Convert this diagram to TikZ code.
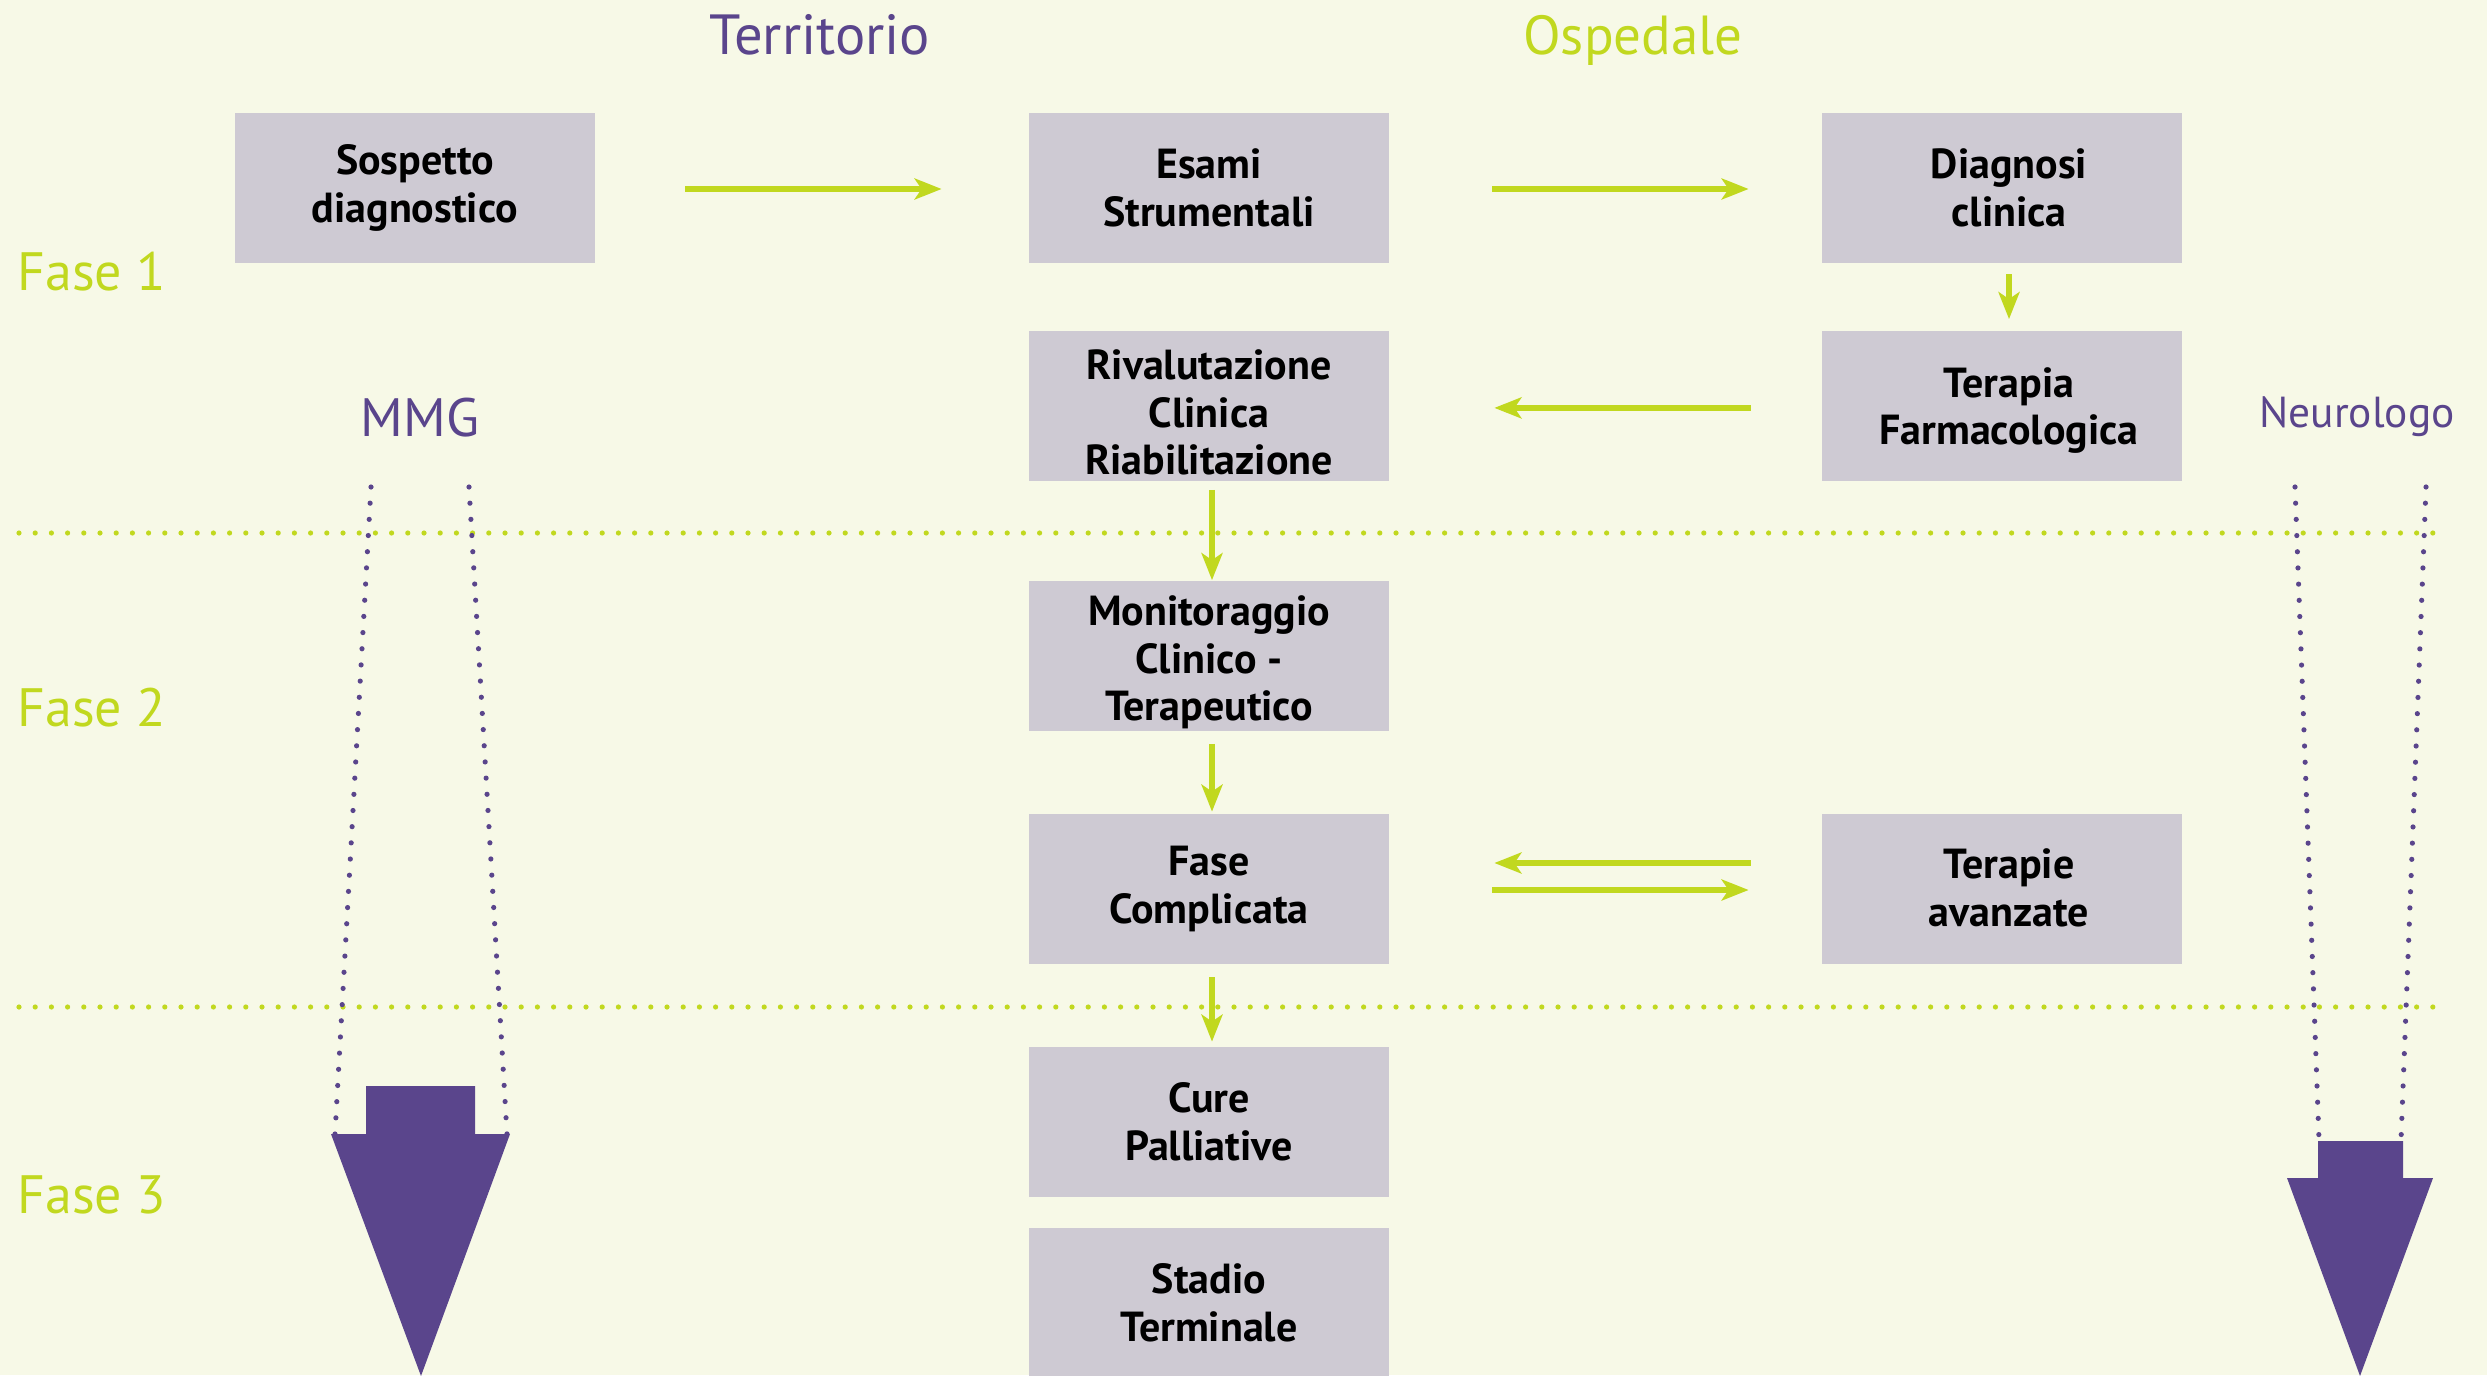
\documentclass[tikz,border=0pt]{standalone}
\usepackage{fontspec}
\setmainfont{PT Sans}
\usetikzlibrary{arrows.meta}
\definecolor{bgc}{HTML}{F7F9E7}
\definecolor{boxc}{HTML}{CECAD3}
\definecolor{purp}{HTML}{5A458C}
\definecolor{lime}{HTML}{C1D81F}
\begin{document}
\begin{tikzpicture}[x=0.5pt,y=-0.5pt,
  boxtext/.style={align=center, inner sep=0pt, font=\bfseries\fontsize{21}{23.8}\selectfont, text=black},
  box/.style={boxtext, fill=boxc, minimum width=180pt, minimum height=75pt},
  boxat/.style n args={3}{fill=boxc, minimum width=180pt, minimum height=75pt, inner sep=0pt,
    label={[boxtext, xshift=#2, yshift=#3]center:#1}},
  arr/.style={draw=lime, line width=2.6pt, -{Stealth[length=13.5pt,width=10.5pt,inset=3.5pt]}},
  limedots/.style={draw=lime, line width=2.6pt, dash pattern=on 0pt off 8.1pt, line cap=round},
  purpdots/.style={draw=purp, line width=2.6pt, dash pattern=on 0pt off 8.1pt, line cap=round},
  head/.style={font=\fontsize{27}{30}\selectfont, inner sep=0pt, anchor=base},
  bigarrow/.style={fill=purp}
]
\fill[bgc] (0,0) rectangle (2487,1375);
\useasboundingbox (0,0) rectangle (2487,1375);

% headers
\node[head, text=purp, font=\fontsize{28.3}{30}\selectfont] (terr) at (820,55) {Territorio};
\node[head, text=lime, font=\fontsize{27.5}{30}\selectfont] (osp) at (1633,55) {Ospedale};
\node[head, text=lime, anchor=base west] (f1) at (17,290) {Fase 1};
\node[head, text=lime, anchor=base west] (f2) at (17,726) {Fase 2};
\node[head, text=lime, anchor=base west] (f3) at (17,1213) {Fase 3};
\node[head, text=purp] (mmg) at (420,436) {MMG};
\node[head, text=purp, font=\fontsize{21.7}{24}\selectfont] (neuro) at (2357,427) {Neurologo};

% dotted separators
\coordinate (s1a) at (19,533);
\coordinate (s1b) at (2437,533);
\coordinate (s2a) at (19,1007);
\coordinate (s2b) at (2437,1007);
\draw[limedots] (s1a) -- (s1b);
\draw[limedots] (s2a) -- (s2b);

% purple dotted lines
\coordinate (m1a) at (371,487);
\coordinate (m1b) at (335,1134);
\coordinate (m2a) at (469,487);
\coordinate (m2b) at (507,1134);
\coordinate (n1a) at (2295,487);
\coordinate (n1b) at (2319,1140);
\coordinate (n2a) at (2426,487);
\coordinate (n2b) at (2401,1140);
\draw[purpdots] (m1a) -- (m1b);
\draw[purpdots] (m2a) -- (m2b);
\draw[purpdots] (n1a) -- (n1b);
\draw[purpdots] (n2a) -- (n2b);

% big arrows
\fill[bigarrow] (366,1086) -- (475,1086) -- (475,1134) -- (510,1134) -- (421,1376)
  -- (331,1134) -- (366,1134) -- cycle;
\fill[bigarrow] (2318,1141) -- (2403,1141) -- (2403,1178) -- (2433,1178) -- (2360,1376)
  -- (2287,1178) -- (2318,1178) -- cycle;

% boxes
\node[box] (sosp) at (415,188) {Sospetto\\diagnostico};
\node[box] (esami) at (1209,188) {Esami\\Strumentali};
\node[boxat={Diagnosi\\clinica}{3.5pt}{0pt}] (diag) at (2002,188) {};
\node[boxat={Rivalutazione\\Clinica\\Riabilitazione}{0pt}{-3.5pt}] (riv) at (1209,405.5) {};
\node[boxat={Terapia\\Farmacologica}{3.5pt}{-2.5pt}] (terf) at (2002,405.5) {};
\node[boxat={Monitoraggio\\Clinico -\\Terapeutico}{0pt}{-3.5pt}] (mon) at (1209,655.5) {};
\node[box] (fase) at (1209,889) {Fase\\Complicata};
\node[boxat={Terapie\\avanzate}{3.5pt}{0.5pt}] (tav) at (2002,889) {};
\node[box] (cure) at (1209,1122) {Cure\\Palliative};
\node[box] (stad) at (1209,1303) {Stadio\\Terminale};

% connectors
\draw[arr, shorten <=45pt, shorten >=43.5pt] ([yshift=-0.5pt]sosp.east) -- ([yshift=-0.5pt]esami.west);
\draw[arr, shorten <=51.5pt, shorten >=36.5pt] ([yshift=-0.5pt]esami.east) -- ([yshift=-0.5pt]diag.west);
\draw[arr, shorten <=5.5pt, shorten >=5.5pt] ([xshift=3.5pt]diag.south) -- ([xshift=3.5pt]terf.north);
\draw[arr, shorten <=35.5pt, shorten >=52.5pt] ([yshift=-1.2pt]terf.west) -- ([yshift=-1.2pt]riv.east);
\draw[arr, shorten <=4.5pt, shorten >=0pt] ([xshift=1.5pt]riv.south) -- ([xshift=1.5pt]mon.north);
\draw[arr, shorten <=6.5pt, shorten >=1pt] ([xshift=1.5pt]mon.south) -- ([xshift=1.5pt]fase.north);
\draw[arr, shorten <=35.5pt, shorten >=52.5pt] ([yshift=13pt]tav.west) -- ([yshift=13pt]fase.east);
\draw[arr, shorten <=51.5pt, shorten >=36.5pt] ([yshift=-0.5pt]fase.east) -- ([yshift=-0.5pt]tav.west);
\draw[arr, shorten <=6.5pt, shorten >=2.5pt] ([xshift=1.5pt]fase.south) -- ([xshift=1.5pt]cure.north);
\end{tikzpicture}
\end{document}
